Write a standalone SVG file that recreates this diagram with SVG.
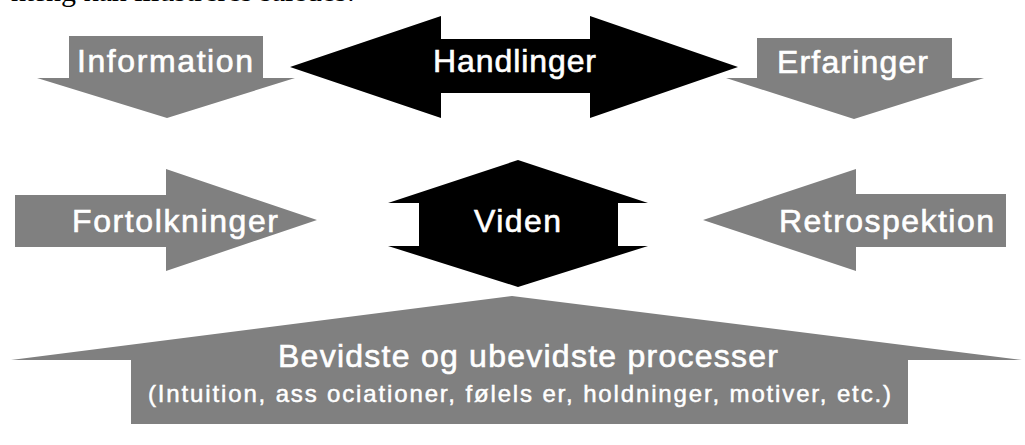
<svg xmlns="http://www.w3.org/2000/svg" width="1025" height="445" viewBox="0 0 1025 445">
<style>
.gray{fill:#808080}
.black{fill:#000}
.lbl{fill:#fff;stroke:#fff;stroke-width:0.6;font-family:"Liberation Sans",Arial,sans-serif;font-size:32px}
.sub{fill:#fff;stroke:#fff;stroke-width:0.5;font-family:"Liberation Sans",Arial,sans-serif;font-size:24px}
.cap{fill:#000;font-family:"Liberation Serif","Times New Roman",serif;font-size:30px}
</style>
<rect width="1025" height="445" fill="#fff"/>
<text class="cap" x="355" y="1" text-anchor="end">hæng kan illustreres således:</text>
<g id="information">
<polygon class="gray" points="69,36 263,36 263,78 295,78 167,118 37,78 69,78"/>
<text class="lbl" x="77" y="72" textLength="176" lengthAdjust="spacing">Information</text>
</g>
<g id="handlinger">
<polygon class="black" points="290,67 441,16 441,39 590,39 590,16 738,67 590,118 590,93 441,93 441,118"/>
<text class="lbl" x="433" y="72" textLength="163" lengthAdjust="spacing">Handlinger</text>
</g>
<g id="erfaringer">
<polygon class="gray" points="757,38 952,38 952,78 984,78 854,119 726,78 757,78"/>
<text class="lbl" x="777" y="73" textLength="151" lengthAdjust="spacing">Erfaringer</text>
</g>
<g id="fortolkninger">
<polygon class="gray" points="15,195 166,195 166,169 317,220 166,271 166,247 15,247"/>
<text class="lbl" x="72" y="232" textLength="206" lengthAdjust="spacing">Fortolkninger</text>
</g>
<g id="viden">
<polygon class="black" points="518,160 648,203 618,203 618,246 648,246 518,287 388,246 419,246 419,203 388,203"/>
<text class="lbl" x="474" y="232" textLength="87" lengthAdjust="spacing">Viden</text>
</g>
<g id="retrospektion">
<polygon class="gray" points="703,220 856,169 856,194 1006,194 1006,247 856,247 856,271"/>
<text class="lbl" x="779" y="232" textLength="215" lengthAdjust="spacing">Retrospektion</text>
</g>
<g id="processer">
<polygon class="gray" points="11,360 512,296 1022,360 908,360 908,424 131,424 131,360"/>
<text class="lbl" x="278" y="367" textLength="500" lengthAdjust="spacing">Bevidste og ubevidste processer</text>
<text class="sub" x="148" y="402" textLength="743" lengthAdjust="spacing">(Intuition, ass ociationer, følels er, holdninger, motiver, etc.)</text>
</g>
<g id="connectors"/>
</svg>
